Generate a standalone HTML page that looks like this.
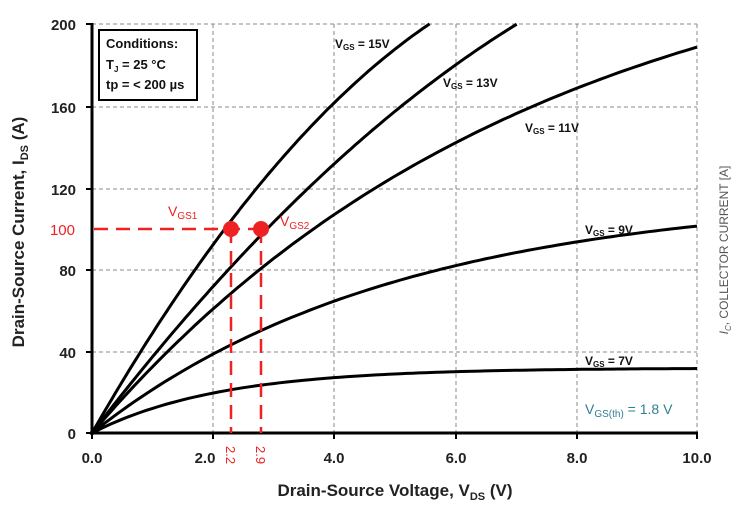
<!DOCTYPE html><html><head><style>body{margin:0;background:#fff}svg{display:block}text{font-family:"Liberation Sans",sans-serif}</style></head><body>
<svg id="s" width="742" height="511" xmlns="http://www.w3.org/2000/svg">
<g stroke="#888" stroke-width="1" stroke-dasharray="4,3">
<line x1="92" y1="24" x2="697" y2="24"/><line x1="92" y1="107" x2="697" y2="107"/><line x1="92" y1="189" x2="697" y2="189"/><line x1="92" y1="270" x2="697" y2="270"/><line x1="92" y1="352" x2="697" y2="352"/>
<line x1="213" y1="24" x2="213" y2="433"/><line x1="334" y1="24" x2="334" y2="433"/><line x1="456" y1="24" x2="456" y2="433"/><line x1="577" y1="24" x2="577" y2="433"/><line x1="697" y1="24" x2="697" y2="433"/>
</g>
<g stroke="#000" stroke-width="3"><line x1="92" y1="23" x2="92" y2="435"/><line x1="90" y1="433" x2="698" y2="433"/></g>
<g stroke="#000" stroke-width="2"><line x1="86" y1="24" x2="92" y2="24"/><line x1="86" y1="107" x2="92" y2="107"/><line x1="86" y1="189" x2="92" y2="189"/><line x1="86" y1="270" x2="92" y2="270"/><line x1="86" y1="352" x2="92" y2="352"/><line x1="86" y1="433" x2="92" y2="433"/>
<line x1="92" y1="433" x2="92" y2="439"/><line x1="213" y1="433" x2="213" y2="439"/><line x1="334" y1="433" x2="334" y2="439"/><line x1="456" y1="433" x2="456" y2="439"/><line x1="577" y1="433" x2="577" y2="439"/><line x1="697" y1="433" x2="697" y2="439"/></g>
<g id="curves" fill="none" stroke="#000" stroke-width="3"></g>
<g font-weight="bold" font-size="15" text-anchor="end" fill="#222">
<text x="76" y="30">200</text><text x="76" y="113">160</text><text x="76" y="195">120</text><text x="76" y="276">80</text><text x="76" y="358">40</text><text x="76" y="439">0</text>
<text x="75" y="235" fill="#e22" font-weight="normal">100</text></g>
<g font-weight="bold" font-size="15" text-anchor="middle" fill="#222">
<text x="92" y="463">0.0</text><text x="205" y="463">2.0</text><text x="334" y="463">4.0</text><text x="456" y="463">6.0</text><text x="577" y="463">8.0</text><text x="697" y="463">10.0</text></g>
<text x="395" y="496" text-anchor="middle" font-weight="bold" font-size="17" fill="#222">Drain-Source Voltage, V<tspan font-size="11" dy="4">DS</tspan><tspan dy="-4"> (V)</tspan></text>
<text transform="translate(24,232) rotate(-90)" text-anchor="middle" font-weight="bold" font-size="17" fill="#222">Drain-Source Current, I<tspan font-size="11" dy="4">DS</tspan><tspan dy="-4"> (A)</tspan></text>
<text transform="translate(728,250) rotate(-90)" text-anchor="middle" font-size="12" fill="#555"><tspan font-style="italic">I</tspan><tspan font-size="8" dy="3" font-style="italic">C</tspan><tspan dy="-3">, COLLECTOR CURRENT [A]</tspan></text>
<rect x="99" y="30" width="98" height="70" fill="#fff" stroke="#000" stroke-width="2"/>
<g font-weight="bold" font-size="13" fill="#111"><text x="106" y="48">Conditions:</text><text x="106" y="69">T<tspan font-size="8" dy="3">J</tspan><tspan dy="-3"> = 25 °C</tspan></text><text x="106" y="89">tp = &lt; 200 µs</text></g>
<g font-weight="bold" font-size="12" fill="#111">
<text x="335" y="48">V<tspan font-size="8" dy="2">GS</tspan><tspan dy="-2"> = 15V</tspan></text>
<text x="443" y="87">V<tspan font-size="8" dy="2">GS</tspan><tspan dy="-2"> = 13V</tspan></text>
<text x="525" y="132">V<tspan font-size="8" dy="2">GS</tspan><tspan dy="-2"> = 11V</tspan></text>
<text x="585" y="234">V<tspan font-size="8" dy="2">GS</tspan><tspan dy="-2"> = 9V</tspan></text>
<text x="585" y="365">V<tspan font-size="8" dy="2">GS</tspan><tspan dy="-2"> = 7V</tspan></text></g>
<text x="585" y="414" font-size="14" fill="#2f7f8f">V<tspan font-size="10" dy="3">GS(th)</tspan><tspan dy="-3"> = 1.8 V</tspan></text>
<g stroke="#e22" stroke-width="2.5" stroke-dasharray="14,8" fill="none">
<line x1="94" y1="229" x2="260" y2="229"/><line x1="231" y1="229" x2="231" y2="433"/><line x1="261" y1="229" x2="261" y2="433"/></g>
<circle cx="231" cy="229" r="8" fill="#e22"/><circle cx="261" cy="229" r="8" fill="#e22"/>
<text x="168" y="216" font-size="14" fill="#e22">V<tspan font-size="10" dy="3">GS1</tspan></text>
<text x="280" y="226" font-size="14" fill="#e22">V<tspan font-size="10" dy="3">GS2</tspan></text>
<text transform="translate(226,446) rotate(90)" font-size="13" fill="#e22">2.2</text>
<text transform="translate(256,446) rotate(90)" font-size="13" fill="#e22">2.9</text>
</svg>
<script>
var X=v=>92+v*60.5,Y=i=>433-i*2.045;
var fs=[[v=>51.7*v-2.84*v*v,5.58],[v=>38.7*v-1.456*v*v,7.02],[v=>253*(1-Math.exp(-v/7.3)),10],[v=>117*(1-Math.exp(-v/5)),10],[v=>31.8*(1-Math.exp(-v/2.1)),10]];
var g=document.getElementById('curves');
fs.forEach(f=>{var d='';for(var i=0;i<=100;i++){var v=f[1]*i/100;d+=(i?'L':'M')+X(v).toFixed(1)+','+Y(f[0](v)).toFixed(1);}
var e=document.createElementNS('http://www.w3.org/2000/svg','path');e.setAttribute('d',d);g.appendChild(e);});
</script></body></html>
